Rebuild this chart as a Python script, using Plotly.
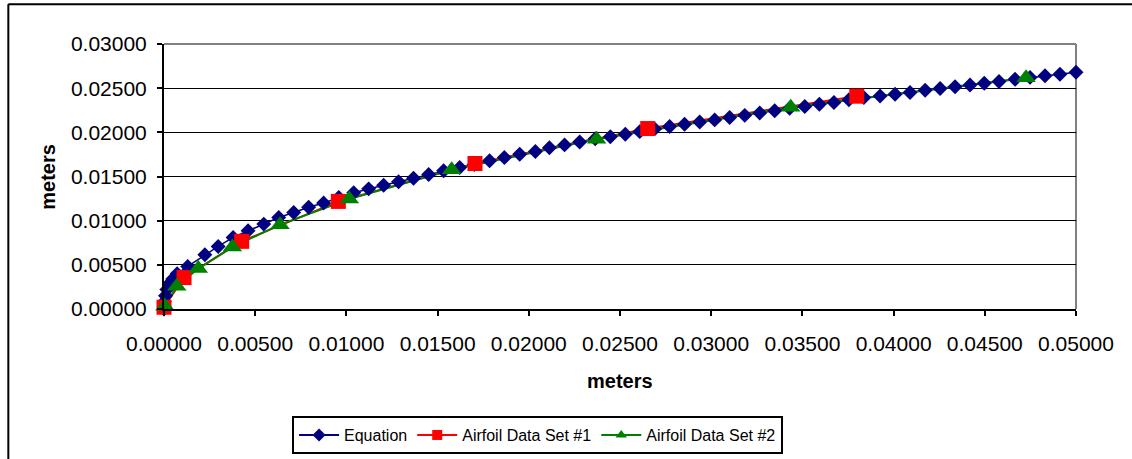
import plotly.graph_objects as go

# Thickness curve from the equation (meters)
eq_x = [0.0, 0.00002, 0.00008, 0.00016, 0.00030, 0.00048, 0.00072, 0.00130, 0.00224,
        0.00297, 0.00379, 0.00461, 0.00547, 0.00629, 0.00711, 0.00793, 0.00875,
        0.00958, 0.01040, 0.01122, 0.01204, 0.01286, 0.01368, 0.01451, 0.01533,
        0.01621, 0.01701, 0.01785, 0.01866, 0.01950, 0.02036, 0.02113, 0.02196,
        0.02279, 0.02364, 0.02447, 0.02529, 0.02608, 0.02690, 0.02772, 0.02854,
        0.02937, 0.03019, 0.03101, 0.03184, 0.03266, 0.03348, 0.03430, 0.03513,
        0.03593, 0.03673, 0.03755, 0.03837, 0.03926, 0.04008, 0.04090, 0.04173,
        0.04255, 0.04337, 0.04419, 0.04497, 0.04578, 0.04666, 0.04748, 0.04830,
        0.04912, 0.05000]
eq_y = [0.0, 0.00083, 0.00150, 0.00220, 0.00290, 0.00340, 0.00400, 0.00482, 0.00614,
        0.00708, 0.00810, 0.00885, 0.00961, 0.01036, 0.01092, 0.01151, 0.01199,
        0.01262, 0.01315, 0.01360, 0.01402, 0.01440, 0.01479, 0.01522, 0.01564,
        0.01601, 0.01635, 0.01678, 0.01714, 0.01751, 0.01784, 0.01826, 0.01858,
        0.01890, 0.01928, 0.01950, 0.01979, 0.02008, 0.02039, 0.02065, 0.02092,
        0.02117, 0.02141, 0.02167, 0.02192, 0.02220, 0.02245, 0.02272, 0.02293,
        0.02318, 0.02338, 0.02370, 0.02393, 0.02412, 0.02431, 0.02452, 0.02477,
        0.02497, 0.02517, 0.02537, 0.02556, 0.02576, 0.02600, 0.02622, 0.02640,
        0.02658, 0.02680]

# Airfoil data set #1
set1_x = [0.0, 0.00110, 0.00426, 0.00956, 0.01705, 0.02652, 0.03798]
set1_y = [0.00020, 0.00356, 0.00766, 0.01218, 0.01647, 0.02043, 0.02409]

# Airfoil data set #2
set2_x = [0.00005, 0.00070, 0.00188, 0.00375, 0.00636, 0.01016, 0.01577, 0.02372,
          0.03436, 0.04726]
set2_y = [0.00030, 0.00258, 0.00458, 0.00703, 0.00955, 0.01245, 0.01576, 0.01923,
          0.02285, 0.02619]

x_ticks = [0.0, 0.005, 0.01, 0.015, 0.02, 0.025, 0.03, 0.035, 0.04, 0.045, 0.05]
y_ticks = [0.0, 0.005, 0.01, 0.015, 0.02, 0.025, 0.03]

series = [
    ("Equation", eq_x, eq_y, "#000080", "diamond", 11.5, 1.5),
    ("Airfoil Data Set #1", set1_x, set1_y, "#FF0000", "square", 15, 2),
    ("Airfoil Data Set #2", set2_x, set2_y, "#008000", "triangle-up", 17, 2),
]

FONT = "Arial, Liberation Sans, sans-serif"

fig = go.Figure()

# connecting lines first, so every marker sits above every line
for name, xs, ys, color, sym, size, lw in series:
    fig.add_trace(go.Scatter(x=xs, y=ys, mode="lines", showlegend=False,
                             line=dict(color=color, width=lw), hoverinfo="skip"))
for name, xs, ys, color, sym, size, lw in series:
    fig.add_trace(go.Scatter(x=xs, y=ys, mode="markers", name=name, showlegend=False,
                             cliponaxis=False,
                             marker=dict(symbol=sym, size=size, color=color,
                                         line=dict(width=0))))
# legend entries
for name, xs, ys, color, sym, size, lw in series:
    fig.add_trace(go.Scatter(x=[None], y=[None], mode="lines+markers", name=name,
                             line=dict(color=color, width=2),
                             marker=dict(symbol=sym, size=10, color=color)))

axis_common = dict(
    showline=True, linecolor="black", linewidth=2,
    ticks="outside", ticklen=5, tickwidth=2, tickcolor="black",
    gridcolor="black", gridwidth=1, zeroline=False,
    tickfont=dict(family=FONT, size=21, color="black"),
    tickformat=".5f",
)

fig.update_xaxes(range=[0, 0.05], tickvals=x_ticks, ticklabelstandoff=10,
                 showgrid=False, **axis_common)
fig.update_yaxes(range=[0, 0.03], tickvals=y_ticks, ticklabelstandoff=6,
                 showgrid=True, **axis_common)

# plot-area frame (top and right in grey) and outer chart frame
shapes = [
    dict(type="line", xref="paper", yref="paper", x0=0, x1=1, y0=1, y1=1,
         line=dict(color="#808080", width=2), layer="between"),
    dict(type="line", xref="paper", yref="paper", x0=1, x1=1, y0=0, y1=1,
         line=dict(color="#808080", width=2), layer="between"),
    dict(type="line", xref="paper", yref="paper", x0=-0.1707, x1=-0.1707, y0=1.1497, y1=-0.7,
         line=dict(color="black", width=2)),
    dict(type="line", xref="paper", yref="paper", x0=-0.1707, x1=1.2, y0=1.1497, y1=1.1497,
         line=dict(color="black", width=2)),
]

annotations = [
    dict(text="<b>meters</b>", xref="paper", yref="paper", x=0.5, y=-0.27,
         xanchor="center", yanchor="middle", showarrow=False,
         font=dict(family=FONT, size=20, color="black")),
    dict(text="<b>meters</b>", xref="paper", yref="paper", x=-0.128, y=0.5,
         xanchor="center", yanchor="middle", textangle=-90, showarrow=False,
         font=dict(family=FONT, size=20, color="black")),
]

fig.update_layout(
    width=1132, height=459,
    margin=dict(l=164, r=56, t=44, b=150, autoexpand=False),
    paper_bgcolor="white", plot_bgcolor="white",
    shapes=shapes, annotations=annotations,
    legend=dict(orientation="h", x=0.1404, xanchor="left", y=-0.404, yanchor="top",
                bordercolor="black", borderwidth=2, bgcolor="white",
                font=dict(family=FONT, size=16, color="black"),
                itemwidth=40, tracegroupgap=0),
)

fig.write_html("out.html")
